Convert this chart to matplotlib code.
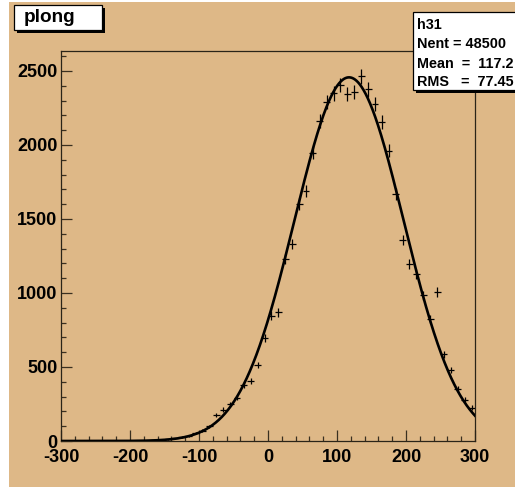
import numpy as np
import matplotlib
matplotlib.use("Agg")
import matplotlib.pyplot as plt
from matplotlib.patches import Rectangle
from matplotlib.ticker import MultipleLocator

plt.rcParams["axes.unicode_minus"] = False

# histogram h31: bin centres (width 10) and contents
bin_centers = [-195, -185, -175, -165, -155, -145, -135, -125, -115, -105,
               -95, -85, -75, -65, -55, -45, -35, -25, -15, -5,
               5, 15, 25, 35, 45, 55, 65, 75, 85, 95,
               105, 115, 125, 135, 145, 155, 165, 175, 185, 195,
               205, 215, 225, 235, 245, 255, 265, 275, 285, 295]
counts = [1, 2, 3, 5, 8, 12, 19, 29, 34, 52,
          70, 99, 176, 212, 250, 293, 376, 407, 514, 694,
          847, 870, 1228, 1331, 1601, 1689, 1948, 2162, 2293, 2349,
          2405, 2343, 2356, 2465, 2376, 2275, 2157, 1960, 1667, 1358,
          1194, 1126, 984, 824, 1007, 587, 480, 353, 280, 226]

# gaussian fit parameters
fit_amp = 2457.0
fit_mean = 117.4
fit_sigma = 79.1

title = "plong"
stats_lines = ["h31", "Nent = 48500", "Mean  =  117.2", "RMS   =  77.45"]

W, H = 515, 488
tan = "#deb887"
fig = plt.figure(figsize=(W / 100, H / 100), dpi=100)
fig.patch.set_facecolor("white")

def px_rect(x0, y0, x1, y1, **kw):
    # rectangle given in image pixel coords (y down)
    return Rectangle((x0 / W, 1 - y1 / H), (x1 - x0) / W, (y1 - y0) / H,
                     transform=fig.transFigure, **kw)

fig.add_artist(px_rect(9, 2, 530, 487, facecolor=tan, edgecolor="none", zorder=-1))

ax = fig.add_axes([61 / W, 1 - 441 / H, (475 - 61) / W, (441 - 51) / H])
ax.set_facecolor(tan)

x = np.array(bin_centers, dtype=float)
y = np.array(counts, dtype=float)
ax.errorbar(x, y, xerr=5, yerr=np.sqrt(y), fmt="none", ecolor="black",
            elinewidth=0.9, capsize=0, zorder=3)

xs = np.linspace(-300, 300, 1201)
ax.plot(xs, fit_amp * np.exp(-0.5 * ((xs - fit_mean) / fit_sigma) ** 2),
        color="black", lw=1.9, zorder=4)

ax.set_xlim(-300, 300)
ax.set_ylim(0, 2635)
ax.xaxis.set_major_locator(MultipleLocator(100))
ax.xaxis.set_minor_locator(MultipleLocator(20))
ax.yaxis.set_major_locator(MultipleLocator(500))
ax.yaxis.set_minor_locator(MultipleLocator(100))
ax.tick_params(which="both", direction="in", top=False, right=False,
               color="#3a3020", width=0.9)
ax.tick_params(which="major", length=8)
ax.tick_params(which="minor", length=3.8)
ax.tick_params(axis="x", pad=6)
ax.tick_params(axis="y", pad=2.5)
for s in ax.spines.values():
    s.set_color("#2a2418")
    s.set_linewidth(0.9)
for lab in ax.get_xticklabels() + ax.get_yticklabels():
    lab.set_fontfamily("Liberation Sans")
    lab.set_fontweight("bold")
    lab.set_fontsize(13)

# title box
fig.add_artist(px_rect(17, 8, 104.5, 32.5, facecolor="black", edgecolor="none", zorder=5))
fig.add_artist(px_rect(14, 5, 101.5, 29.5, facecolor="white", edgecolor="black",
                       lw=0.9, zorder=6))
fig.text(24 / W, 1 - 17.5 / H, title, ha="left", va="center", fontsize=13.7,
         fontweight="bold", family="Liberation Sans", zorder=7)

# stats box
fig.add_artist(px_rect(415.5, 15, 540, 92.5, facecolor="black", edgecolor="none", zorder=5))
fig.add_artist(px_rect(412.5, 12, 540, 89.5, facecolor="white", edgecolor="black",
                       lw=0.9, zorder=6))
for line, ypx in zip(stats_lines, [25, 44.5, 63.5, 82]):
    fig.text(417 / W, 1 - ypx / H, line, ha="left", va="center", fontsize=10.4,
             fontweight="bold", family="Liberation Sans", zorder=7)

fig.savefig("out.png", dpi=100)
